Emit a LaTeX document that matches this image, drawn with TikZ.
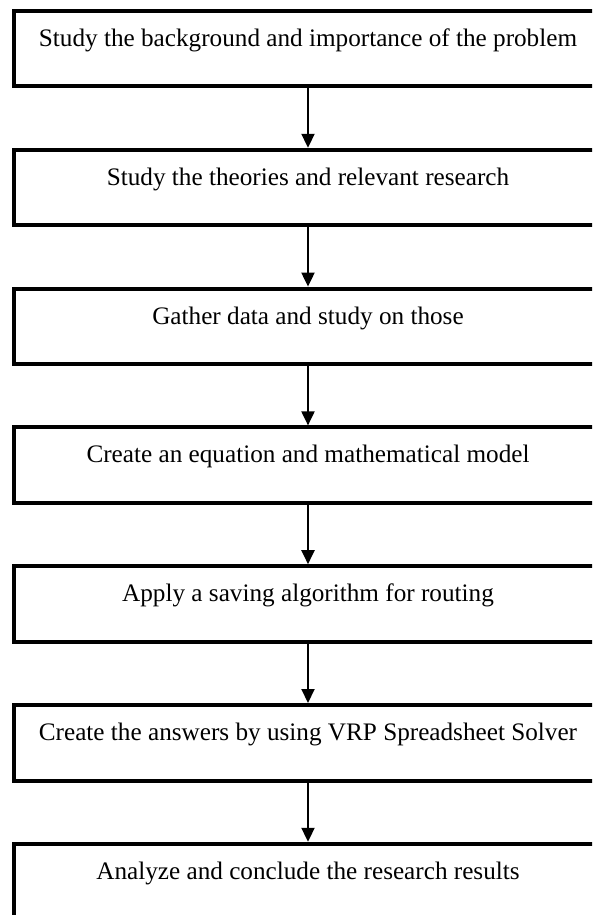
\documentclass[tikz,border=0pt]{standalone}
\usepackage{fontspec}
\setmainfont{Liberation Serif}
\usetikzlibrary{arrows.meta,positioning}

\begin{document}
\begin{tikzpicture}[
  x=1pt, y=1pt,
  stepbox/.style={rectangle, draw=black, line width=4pt, fill=white,
              minimum width=588pt, inner xsep=0pt, inner ysep=0pt,
              text height=35.5pt, text depth=40pt,
              font=\fontsize{25.2}{30}\selectfont},
  arr/.style={-{Triangle[length=14pt, width=13pt]}, line width=2pt, color=black},
  node distance=59.3pt
]
\clip (0,0) rectangle (592,-915);
% ── Research steps ─────────────
\node[stepbox] (bg) at (308,-48.75)
  {Study the background and importance of the problem};
\node[stepbox, below=of bg] (theory)
  {Study the theories and relevant research};
\node[stepbox, below=of theory] (data)
  {Gather data and study on those};
\node[stepbox, below=of data] (model)
  {Create an equation and mathematical model};
\node[stepbox, below=of model] (saving)
  {Apply a saving algorithm for routing};
\node[stepbox, below=of saving] (solver)
  {Create the answers by using VRP Spreadsheet Solver};
\node[stepbox, below=of solver] (result)
  {Analyze and conclude the research results};
\draw[arr] (bg) -- (theory);
\draw[arr] (theory) -- (data);
\draw[arr] (data) -- (model);
\draw[arr] (model) -- (saving);
\draw[arr] (saving) -- (solver);
\draw[arr] (solver) -- (result);
\end{tikzpicture}
\end{document}
